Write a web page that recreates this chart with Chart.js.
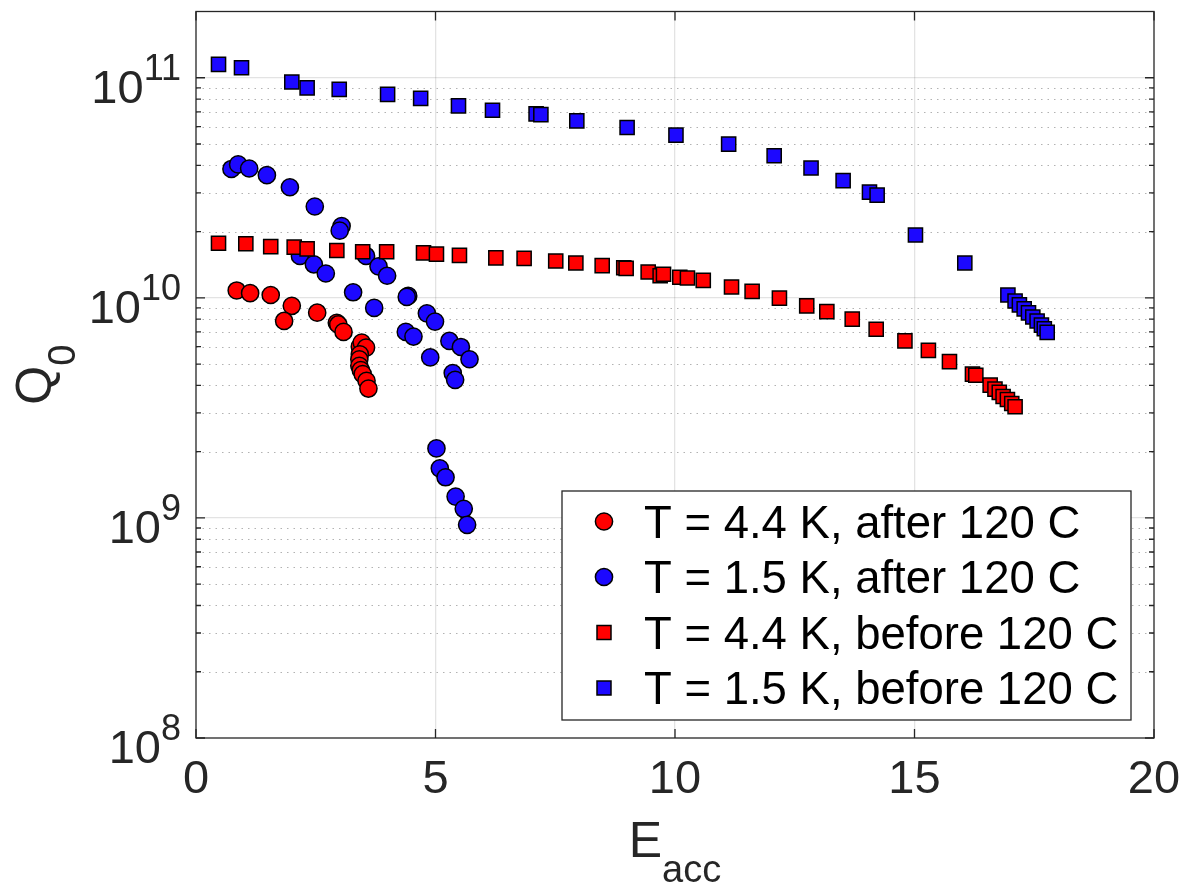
<!DOCTYPE html>
<html>
<head>
<meta charset="utf-8">
<script src="https://cdn.jsdelivr.net/npm/chart.js@4.4.0/dist/chart.umd.min.js"></script>
<style>
  html, body { margin: 0; padding: 0; background: #fff; }
  canvas { display: block; }
</style>
</head>
<body>
<canvas id="q0Chart" width="1182" height="883"></canvas>
<script>
// series names (legend order)
const seriesNames = [
  'T = 4.4 K, after 120 C',
  'T = 1.5 K, after 120 C',
  'T = 4.4 K, before 120 C',
  'T = 1.5 K, before 120 C'
];

// T = 4.4 K, after 120 C
const eRedAfter = [0.85, 1.13, 1.56, 2.0, 1.84, 2.53, 2.94, 2.97, 3.08, 3.42, 3.46, 3.55, 3.42, 3.41, 3.41, 3.44, 3.48, 3.56, 3.6];
const qRedAfter = [1.08e10, 1.05e10, 1.03e10, 9.2e9, 7.85e9, 8.56e9, 7.7e9, 7.57e9, 7.0e9, 6.0e9, 6.26e9, 5.94e9, 5.54e9, 5.26e9, 4.91e9, 4.7e9, 4.5e9, 4.2e9, 3.87e9];

// T = 1.5 K, after 120 C
const eBlueAfter = [0.74, 0.88, 1.11, 1.48, 1.96, 2.48, 3.04, 3.0, 2.17, 2.46, 2.71, 3.55, 3.81, 3.99, 3.28, 3.72, 4.43, 4.4, 4.82, 4.99, 4.38, 4.54, 4.89, 5.29, 5.53, 5.71, 5.36, 5.41, 5.02, 5.09, 5.21, 5.42, 5.59, 5.66];
const qBlueAfter = [3.85e10, 4.04e10, 3.87e10, 3.61e10, 3.18e10, 2.6e10, 2.12e10, 2.02e10, 1.55e10, 1.42e10, 1.29e10, 1.55e10, 1.39e10, 1.26e10, 1.06e10, 9.0e9, 1.02e10, 1.01e10, 8.5e9, 7.8e9, 7.0e9, 6.67e9, 5.36e9, 6.37e9, 5.98e9, 5.26e9, 4.55e9, 4.24e9, 2.07e9, 1.68e9, 1.53e9, 1.25e9, 1.10e9, 9.3e8];

// T = 4.4 K, before 120 C
const eRedBefore = [0.47, 1.04, 1.56, 2.05, 2.32, 2.94, 3.48, 3.98, 4.75, 5.02, 5.5, 6.26, 6.85, 7.51, 7.93, 8.48, 8.93, 8.98, 9.44, 9.69, 9.76, 10.1, 10.26, 10.59, 11.18, 11.61, 12.18, 12.75, 13.17, 13.7, 14.2, 14.8, 15.29, 15.73, 16.21, 16.28, 16.58, 16.68, 16.77, 16.85, 16.94, 17.03, 17.1];
const qRedBefore = [1.77e10, 1.76e10, 1.71e10, 1.70e10, 1.67e10, 1.64e10, 1.62e10, 1.62e10, 1.60e10, 1.58e10, 1.56e10, 1.52e10, 1.51e10, 1.47e10, 1.44e10, 1.40e10, 1.37e10, 1.36e10, 1.31e10, 1.26e10, 1.28e10, 1.24e10, 1.23e10, 1.20e10, 1.12e10, 1.07e10, 9.97e9, 9.2e9, 8.65e9, 8.0e9, 7.2e9, 6.37e9, 5.77e9, 5.13e9, 4.5e9, 4.45e9, 4.01e9, 3.85e9, 3.72e9, 3.56e9, 3.45e9, 3.31e9, 3.2e9];

// T = 1.5 K, before 120 C
const eBlueBefore = [0.47, 0.95, 2.0, 2.32, 2.99, 4.0, 4.69, 5.48, 6.19, 7.1, 7.2, 7.95, 9.0, 10.02, 11.12, 12.07, 12.84, 13.51, 14.06, 14.22, 15.02, 16.05, 16.95, 17.1, 17.19, 17.29, 17.38, 17.47, 17.56, 17.65, 17.71, 17.77];
const qBlueBefore = [1.15e11, 1.11e11, 9.56e10, 9.0e10, 8.86e10, 8.4e10, 8.06e10, 7.45e10, 7.12e10, 6.85e10, 6.8e10, 6.37e10, 5.94e10, 5.49e10, 4.99e10, 4.42e10, 3.89e10, 3.41e10, 3.02e10, 2.93e10, 1.93e10, 1.44e10, 1.03e10, 9.67e9, 9.29e9, 8.91e9, 8.55e9, 8.18e9, 7.85e9, 7.52e9, 7.24e9, 6.97e9];

// axis ticks
const xTicks = [0, 5, 10, 15, 20];
const yDecades = [1e8, 1e9, 1e10, 1e11];
const yMantissas = [2, 3, 4, 5, 6, 7, 8, 9];

const FONT = "'Liberation Sans', Arial, Helvetica, sans-serif";
const AXIS_COLOR = '#262626';
const RED = 'rgb(255,0,0)';
const BLUE = 'rgb(28,8,255)';

const toPoints = (xs, ys) => xs.map((x, i) => ({ x: x, y: ys[i] }));
// minor tick values between the decades (below the top limit)
const yMinor = [];
yDecades.slice(0, 3).forEach(d => yMantissas.forEach(m => yMinor.push(m * d)));

// MATLAB-like box, inward ticks, superscript tick labels, subscript titles, legend
const matlabAxes = {
  id: 'matlabAxes',
  beforeDatasetsDraw(chart) {
    const { ctx, chartArea: a, scales: { y } } = chart;
    ctx.save();
    ctx.strokeStyle = 'rgba(0,0,0,0.3)';
    ctx.lineWidth = 1;
    ctx.setLineDash([1.5, 5]);
    yMinor.forEach(v => {
      const py = Math.round(y.getPixelForValue(v)) + 0.5;
      ctx.beginPath();
      ctx.moveTo(a.left, py);
      ctx.lineTo(a.right, py);
      ctx.stroke();
    });
    ctx.restore();
  },
  afterDatasetsDraw(chart) {
    const { ctx, chartArea: a, scales: { x, y } } = chart;
    ctx.save();
    ctx.strokeStyle = AXIS_COLOR;
    ctx.lineWidth = 1.3;
    // ticks
    ctx.beginPath();
    yDecades.concat(yMinor).forEach(v => {
      const py = y.getPixelForValue(v);
      const len = yDecades.includes(v) ? 9 : 5;
      ctx.moveTo(a.left, py); ctx.lineTo(a.left + len, py);
      ctx.moveTo(a.right, py); ctx.lineTo(a.right - len, py);
    });
    xTicks.forEach(v => {
      const px = x.getPixelForValue(v);
      ctx.moveTo(px, a.bottom); ctx.lineTo(px, a.bottom - 9);
      ctx.moveTo(px, a.top); ctx.lineTo(px, a.top + 9);
    });
    ctx.stroke();
    // box
    ctx.strokeRect(a.left, a.top, a.right - a.left, a.bottom - a.top);

    // y tick labels 10^n
    ctx.fillStyle = AXIS_COLOR;
    ctx.textBaseline = 'alphabetic';
    ctx.textAlign = 'left';
    yDecades.forEach(v => {
      const py = y.getPixelForValue(v);
      const exp = String(Math.round(Math.log10(v)));
      ctx.font = '36px ' + FONT;
      const ew = ctx.measureText(exp).width;
      ctx.font = '47px ' + FONT;
      const bw = ctx.measureText('10').width;
      const right = a.left - 15;
      ctx.fillText('10', right - ew - bw, py + 25);
      ctx.font = '36px ' + FONT;
      ctx.fillText(exp, right - ew, py + 2);
    });

    // x title E_acc
    ctx.font = '50px ' + FONT;
    const wE = ctx.measureText('E').width;
    ctx.font = '38px ' + FONT;
    const wAcc = ctx.measureText('acc').width;
    const cx = (a.left + a.right) / 2;
    const sx = cx - (wE + wAcc) / 2;
    ctx.font = '50px ' + FONT;
    ctx.fillText('E', sx, 857);
    ctx.font = '38px ' + FONT;
    ctx.fillText('acc', sx + wE, 882);

    // y title Q_0
    ctx.save();
    const cy = (a.top + a.bottom) / 2;
    ctx.translate(51, cy);
    ctx.rotate(-Math.PI / 2);
    ctx.font = '50px ' + FONT;
    const wQ = ctx.measureText('Q').width;
    ctx.font = '38px ' + FONT;
    const w0 = ctx.measureText('0').width;
    ctx.font = '50px ' + FONT;
    ctx.fillText('Q', -(wQ + w0) / 2, 0);
    ctx.font = '38px ' + FONT;
    ctx.fillText('0', -(wQ + w0) / 2 + wQ, 24);
    ctx.restore();

    // legend
    const lx = 562, ly = 491, lw = 569, lh = 229;
    ctx.fillStyle = '#fff';
    ctx.fillRect(lx, ly, lw, lh);
    ctx.strokeStyle = AXIS_COLOR;
    ctx.lineWidth = 1.3;
    ctx.strokeRect(lx, ly, lw, lh);
    ctx.font = '45.5px ' + FONT;
    chart.data.datasets.forEach((ds, i) => {
      const rowY = 521.5 + i * 55.5;
      const mx = 604;
      ctx.fillStyle = ds.backgroundColor;
      ctx.strokeStyle = '#000';
      ctx.lineWidth = 1.5;
      ctx.beginPath();
      if (ds.pointStyle === 'circle') {
        ctx.arc(mx, rowY, 8.6, 0, Math.PI * 2);
      } else {
        ctx.rect(mx - 7, rowY - 7, 14, 14);
      }
      ctx.fill();
      ctx.stroke();
      ctx.fillStyle = '#000';
      ctx.fillText(ds.label, 644, rowY + 16);
    });
    ctx.restore();
  }
};

const ctx = document.getElementById('q0Chart').getContext('2d');
new Chart(ctx, {
  type: 'scatter',
  data: {
    datasets: [
      { label: seriesNames[0], data: toPoints(eRedAfter, qRedAfter), pointStyle: 'circle', pointRadius: 8.6, backgroundColor: RED, borderColor: '#000', borderWidth: 1.5, order: 4 },
      { label: seriesNames[1], data: toPoints(eBlueAfter, qBlueAfter), pointStyle: 'circle', pointRadius: 8.6, backgroundColor: BLUE, borderColor: '#000', borderWidth: 1.5, order: 3 },
      { label: seriesNames[2], data: toPoints(eRedBefore, qRedBefore), pointStyle: 'rect', pointRadius: 10, backgroundColor: RED, borderColor: '#000', borderWidth: 1.5, order: 2 },
      { label: seriesNames[3], data: toPoints(eBlueBefore, qBlueBefore), pointStyle: 'rect', pointRadius: 10, backgroundColor: BLUE, borderColor: '#000', borderWidth: 1.5, order: 1 }
    ]
  },
  options: {
    responsive: false,
    animation: false,
    devicePixelRatio: 1,
    layout: { padding: { top: 8, right: 28, left: 0, bottom: 0 } },
    plugins: {
      legend: { display: false },
      tooltip: { enabled: false }
    },
    scales: {
      x: {
        type: 'linear',
        min: 0,
        max: 20,
        afterFit: s => { s.height = 145; s.paddingLeft = 0; s.paddingRight = 0; },
        afterBuildTicks: s => { s.ticks = xTicks.map(v => ({ value: v })); },
        ticks: {
          font: { family: FONT, size: 47 },
          color: AXIS_COLOR,
          padding: 14
        },
        grid: {
          drawTicks: false,
          lineWidth: 1.3,
          color: c => (c.tick && (c.tick.value === 0 || c.tick.value === 20)) ? 'rgba(0,0,0,0)' : 'rgba(0,0,0,0.11)'
        },
        border: { display: false }
      },
      y: {
        type: 'logarithmic',
        min: 1e8,
        max: 2e11,
        afterFit: s => { s.width = 196; s.paddingTop = 0; s.paddingBottom = 0; },
        afterBuildTicks: s => { s.ticks = yDecades.map(v => ({ value: v })); },
        ticks: { display: false },
        grid: {
          drawTicks: false,
          lineWidth: 1.3,
          color: c => (c.tick && c.tick.value > 1e8) ? 'rgba(0,0,0,0.11)' : 'rgba(0,0,0,0)'
        },
        border: { display: false }
      }
    }
  },
  plugins: [matlabAxes]
});
</script>
</body>
</html>
